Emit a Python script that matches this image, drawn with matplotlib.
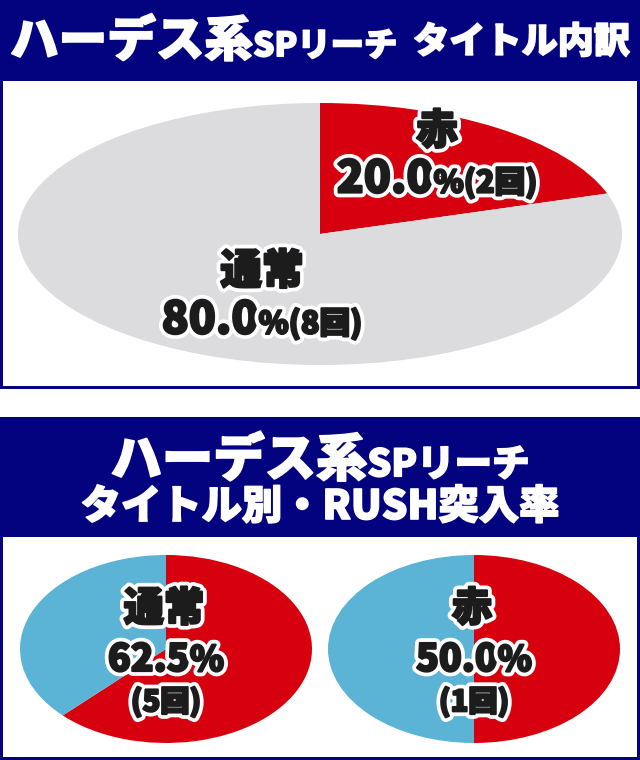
import matplotlib
matplotlib.use('Agg')
import matplotlib.pyplot as plt
import matplotlib.patheffects as pe
from matplotlib.patches import Rectangle
from matplotlib.offsetbox import TextArea, HPacker, AnnotationBbox

plt.rcParams['font.family'] = ['Noto Sans CJK JP', 'DejaVu Sans']

# top chart: title breakdown (counts)
title_names = ['赤', '通常']
title_counts = [2, 8]
title_colors = ['#d7000f', '#dcdcde']

# bottom charts: RUSH rate per title
rush_names = ['通常', '赤']
rush_hits = [5, 1]
rush_totals = [8, 2]
rush_colors = ['#d7000f', '#5bb3d6']

NAVY = '#03037f'
INK = '#1c1c1c'
W, H = 640, 760

fig = plt.figure(figsize=(6.4, 7.6), dpi=100)
bg = fig.add_axes([0, 0, 1, 1])
bg.set_xlim(0, W)
bg.set_ylim(H, 0)
bg.axis('off')


def rect(x0, y0, x1, y1, color):
    bg.add_patch(Rectangle((x0, y0), x1 - x0, y1 - y0, color=color, lw=0))


def pie_axes(cx, cy, rx, ry):
    return fig.add_axes([(cx - rx) / W, 1 - (cy + ry) / H, 2 * rx / W, 2 * ry / H])


def ta(s, size, color=INK, outline=True):
    props = dict(fontsize=size, fontweight='black', color=color)
    if outline:
        props['path_effects'] = [pe.Stroke(linewidth=7, foreground='white'),
                                 pe.Stroke(linewidth=1.6, foreground=color),
                                 pe.Normal()]
    else:
        props['path_effects'] = [pe.Stroke(linewidth=1.2, foreground=color),
                                 pe.Normal()]
    return TextArea(s, textprops=props)


def row(*parts):
    return HPacker(children=list(parts), align='baseline', pad=0, sep=0)


# panel frames
rect(0, 0, 640, 389, NAVY)
rect(3, 81, 637, 386, 'white')
rect(0, 417, 640, 760, NAVY)
rect(3, 537, 637, 757, 'white')

# top pie
ax = pie_axes(320, 234, 302, 131)
ax.pie(title_counts, colors=title_colors, startangle=90, counterclock=False,
       wedgeprops=dict(linewidth=0))
ax.set_aspect('auto')
ax.set_xlim(-1, 1)
ax.set_ylim(-1, 1)

# bottom pies
centers = [166, 474]
for hit, tot, cx in zip(rush_hits, rush_totals, centers):
    ax = pie_axes(cx, 649, 146, 94)
    ax.pie([hit, tot - hit], colors=rush_colors, startangle=90, counterclock=False,
           wedgeprops=dict(linewidth=0))
    ax.set_aspect('auto')
    ax.set_xlim(-1, 1)
    ax.set_ylim(-1, 1)

# overlay for all text, so it sits above the pies
fg = fig.add_axes([0, 0, 1, 1])
fg.set_xlim(0, W)
fg.set_ylim(H, 0)
fg.axis('off')
fg.patch.set_alpha(0)


def place(box, x, y, ha=0.5):
    fg.add_artist(AnnotationBbox(box, (x, y), xycoords='data', frameon=False,
                                 box_alignment=(ha, 0.5), pad=0))


# headers
place(row(ta('ハーデス系', 35, 'white', False), ta('SPリーチ', 24, 'white', False)), 10, 42, ha=0)
place(ta('タイトル内訳', 26, 'white', False), 630, 42, ha=1)
place(row(ta('ハーデス系', 37, 'white', False), ta('SPリーチ', 27, 'white', False)), 320, 461)
place(ta('タイトル別・RUSH突入率', 29, 'white', False), 320, 507)

# top labels
total = sum(title_counts)
top_pos = [(437, 132, 179), (262, 272, 320)]
for name, cnt, (x, y1, y2) in zip(title_names, title_counts, top_pos):
    place(ta(name, 30), x, y1)
    pct = cnt / total * 100
    place(row(ta(f'{pct:.1f}', 32), ta(f'%({cnt}回)', 22)), x, y2)

# bottom labels
for name, hit, tot, cx in zip(rush_names, rush_hits, rush_totals, centers):
    pct = hit / tot * 100
    place(ta(name, 29), cx - 2, 609)
    place(row(ta(f'{pct:.1f}', 27), ta('%', 25)), cx, 660)
    place(ta(f'({hit}回)', 21), cx, 702)

fig.savefig('out.png', dpi=100)
